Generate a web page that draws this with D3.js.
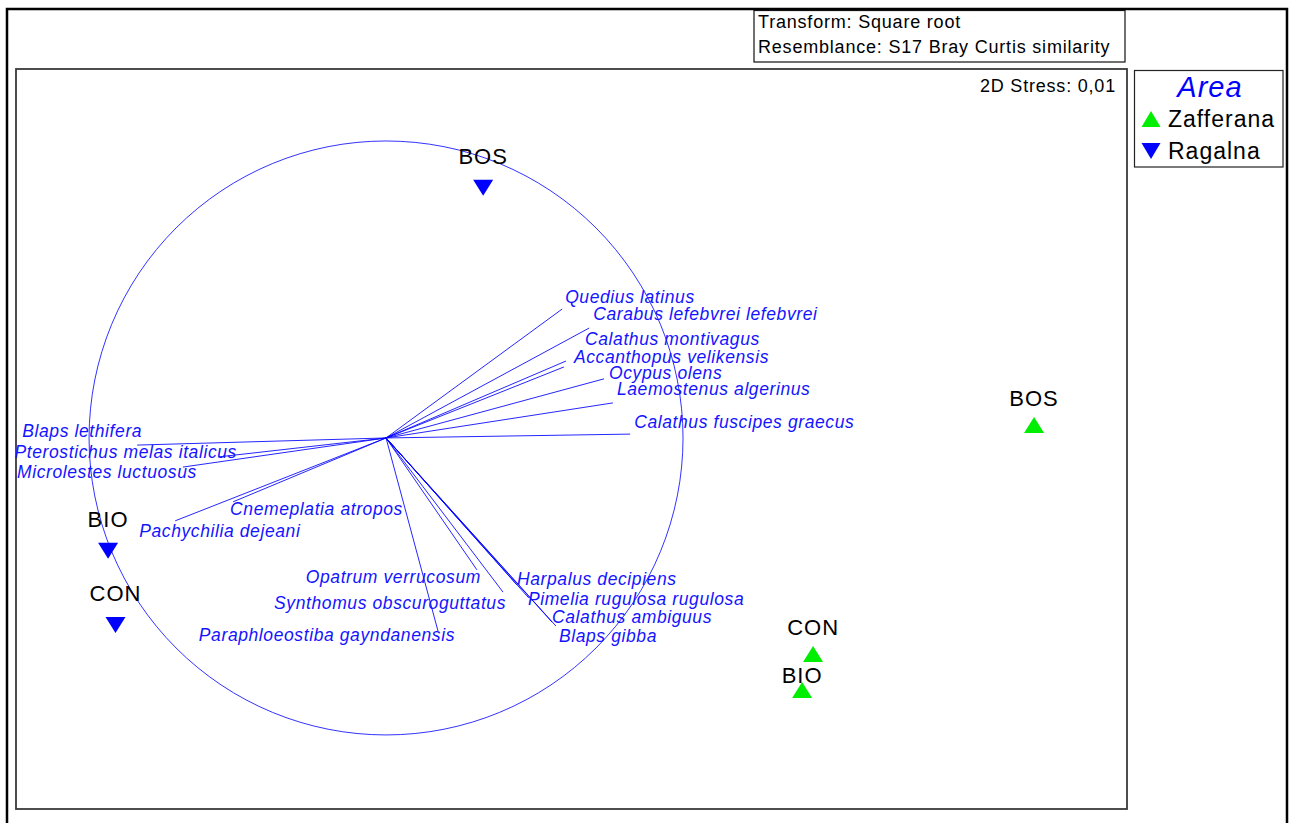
<!DOCTYPE html>
<html><head><meta charset="utf-8">
<script src="https://cdn.jsdelivr.net/npm/d3@7"></script>
<style>body{margin:0;background:#fff} svg{display:block}</style>
</head><body>
<script>
// ---------- DATA ----------
const sampleNames = ["BOS", "BIO", "CON", "BOS", "CON", "BIO"];
const sampleArea  = ["Ragalna", "Ragalna", "Ragalna", "Zafferana", "Zafferana", "Zafferana"];
const mds1 = [0.327, -0.936, -0.911, 2.182, 1.438, 1.401];
const mds2 = [0.842, -0.380, -0.630, 0.044, -0.727, -0.848];

const areas = ["Zafferana", "Ragalna"];

const species = [
  "Quedius latinus", "Carabus lefebvrei lefebvrei", "Calathus montivagus",
  "Accanthopus velikensis", "Ocypus olens", "Laemostenus algerinus",
  "Calathus fuscipes graecus", "Blaps lethifera", "Pterostichus melas italicus",
  "Microlestes luctuosus", "Pachychilia dejeani", "Cnemeplatia atropos",
  "Opatrum verrucosum", "Synthomus obscuroguttatus", "Paraphloeostiba gayndanensis",
  "Harpalus decipiens", "Pimelia rugulosa rugulosa", "Calathus ambiguus", "Blaps gibba"
];
// Vector (correlation) components on MDS1 / MDS2
const vecX = [0.593, 0.684, 0.606, 0.599, 0.734, 0.764, 0.822, -0.838, -0.566,
              -0.684, -0.710, -0.515, 0.306, 0.394, 0.175, 0.441, 0.481, 0.559, 0.572];
const vecY = [0.434, 0.370, 0.259, 0.239, 0.199, 0.118, 0.013, -0.024, -0.064,
              -0.098, -0.279, -0.215, -0.444, -0.519, -0.650, -0.495, -0.539, -0.620, -0.633];

const transformText = "Transform: Square root";
const resemblanceText = "Resemblance: S17 Bray Curtis similarity";
const stressText = "2D Stress: 0,01";
const legendTitle = "Area";

// ---------- LAYOUT ----------
const W = 1291, H = 823;
const plot = {left: 16, top: 69, right: 1127, bottom: 809};
const circleCenter = [0, 0]; // in MDS units
const blue = "#0000ff";
const textBlue = "#1414ff";
const green = "#00ee00";

// label placement (pixel offsets from vector tip) for the vector labels
const labelLayout = {
  "Quedius latinus": [3, -6, "start"],
  "Carabus lefebvrei lefebvrei": [4, -8, "start"],
  "Calathus montivagus": [19, -16, "start"],
  "Accanthopus velikensis": [10, -4, "start"],
  "Ocypus olens": [5, 0, "start"],
  "Laemostenus algerinus": [4, -8, "start"],
  "Calathus fuscipes graecus": [4, -6, "start"],
  "Blaps lethifera": [5, -8, "end"],
  "Pterostichus melas italicus": [19, 1, "end"],
  "Microlestes luctuosus": [14, 11, "end"],
  "Pachychilia dejeani": [-36, 16, "start"],
  "Cnemeplatia atropos": [-3, 13, "start"],
  "Opatrum verrucosum": [4, 13, "end"],
  "Synthomus obscuroguttatus": [3, 17, "end"],
  "Paraphloeostiba gayndanensis": [17, 10, "end"],
  "Harpalus decipiens": [0, 0, "start"],
  "Pimelia rugulosa rugulosa": [-1, 7, "start"],
  "Calathus ambiguus": [0, 1, "start"],
  "Blaps gibba": [3, 16, "start"]
};

const x = d3.scaleLinear().domain([-1.246, 2.495]).range([plot.left, plot.right]);
const y = d3.scaleLinear().domain([-1.249, 1.242]).range([plot.bottom, plot.top]);

const svg = d3.select("body").append("svg").attr("width", W).attr("height", H)
  .style("font-family", "'Liberation Sans', Arial, sans-serif");

// outer frame
svg.append("path")
  .attr("d", `M7,${H + 5} L7,9 L1287,9 L1287,${H + 5}`)
  .attr("fill", "none").attr("stroke", "#000").attr("stroke-width", 2.5);

// transform box
const tb = svg.append("g");
tb.append("rect").attr("x", 754).attr("y", 10.5).attr("width", 371).attr("height", 51.5)
  .attr("fill", "#fff").attr("stroke", "#111").attr("stroke-width", 1.2);
tb.append("text").attr("x", 758).attr("y", 28).attr("font-size", 18).attr("letter-spacing", 0.8)
  .attr("fill", "#000").text(transformText);
tb.append("text").attr("x", 758).attr("y", 53).attr("font-size", 18).attr("letter-spacing", 0.8)
  .attr("fill", "#000").text(resemblanceText);

// plot frame
svg.append("rect").attr("x", plot.left).attr("y", plot.top)
  .attr("width", plot.right - plot.left).attr("height", plot.bottom - plot.top)
  .attr("fill", "none").attr("stroke", "#3a3a3a").attr("stroke-width", 1.8);

svg.append("text").attr("x", 1116).attr("y", 92).attr("text-anchor", "end")
  .attr("font-size", 18).attr("letter-spacing", 0.8).attr("fill", "#000").text(stressText);

// vector circle
const cx = x(circleCenter[0]), cy = y(circleCenter[1]);
const r = x(circleCenter[0] + 1) - x(circleCenter[0]);
svg.append("circle").attr("cx", cx).attr("cy", cy).attr("r", r)
  .attr("fill", "none").attr("stroke", blue).attr("stroke-width", 1).attr("opacity", 0.8);

// vectors
const vecs = species.map((s, i) => ({name: s, vx: vecX[i], vy: vecY[i]}));
svg.append("g").selectAll("line").data(vecs).join("line")
  .attr("x1", cx).attr("y1", cy)
  .attr("x2", d => x(circleCenter[0] + d.vx))
  .attr("y2", d => y(circleCenter[1] + d.vy))
  .attr("stroke", blue).attr("stroke-width", 1).attr("opacity", 0.85);

svg.append("g").selectAll("text").data(vecs).join("text")
  .attr("x", d => x(circleCenter[0] + d.vx) + labelLayout[d.name][0])
  .attr("y", d => y(circleCenter[1] + d.vy) + labelLayout[d.name][1])
  .attr("text-anchor", d => labelLayout[d.name][2])
  .attr("font-size", 17.5).attr("font-style", "italic").attr("letter-spacing", 0.6)
  .attr("fill", textBlue).text(d => d.name);

// samples
const samples = sampleNames.map((n, i) => ({name: n, area: sampleArea[i], x: mds1[i], y: mds2[i]}));
const tri = (up, w, h) => up
  ? `M0,${-h / 2} L${w / 2},${h / 2} L${-w / 2},${h / 2} Z`
  : `M${-w / 2},${-h / 2} L${w / 2},${-h / 2} L0,${h / 2} Z`;
const labelNudge = {"Zafferana BIO": 12};

const sg = svg.append("g");
sg.selectAll("path").data(samples).join("path")
  .attr("transform", d => `translate(${x(d.x)},${y(d.y)})`)
  .attr("d", d => tri(d.area === "Zafferana", 20, 16))
  .attr("fill", d => d.area === "Zafferana" ? green : blue);
sg.selectAll("text").data(samples).join("text")
  .attr("x", d => x(d.x))
  .attr("y", d => y(d.y) + (d.area === "Zafferana" ? -19 : -24) + (labelNudge[d.area + " " + d.name] || 0))
  .attr("text-anchor", "middle").attr("font-size", 22).attr("letter-spacing", 1)
  .attr("fill", "#000").text(d => d.name);

// legend
const lg = svg.append("g");
lg.append("rect").attr("x", 1134.5).attr("y", 70.5).attr("width", 148.5).attr("height", 96.5)
  .attr("fill", "#fff").attr("stroke", "#222").attr("stroke-width", 1.2);
lg.append("text").attr("x", 1210).attr("y", 97).attr("text-anchor", "middle")
  .attr("font-size", 29).attr("font-style", "italic").attr("letter-spacing", 1)
  .attr("fill", blue).text(legendTitle);
areas.forEach((a, i) => {
  const yy = 119 + i * 32;
  lg.append("path").attr("transform", `translate(1151,${yy})`)
    .attr("d", tri(a === "Zafferana", 19, 16))
    .attr("fill", a === "Zafferana" ? green : blue);
  lg.append("text").attr("x", 1168).attr("y", yy + 8).attr("font-size", 23).attr("letter-spacing", 1)
    .attr("fill", "#000").text(a);
});
</script>
</body></html>
